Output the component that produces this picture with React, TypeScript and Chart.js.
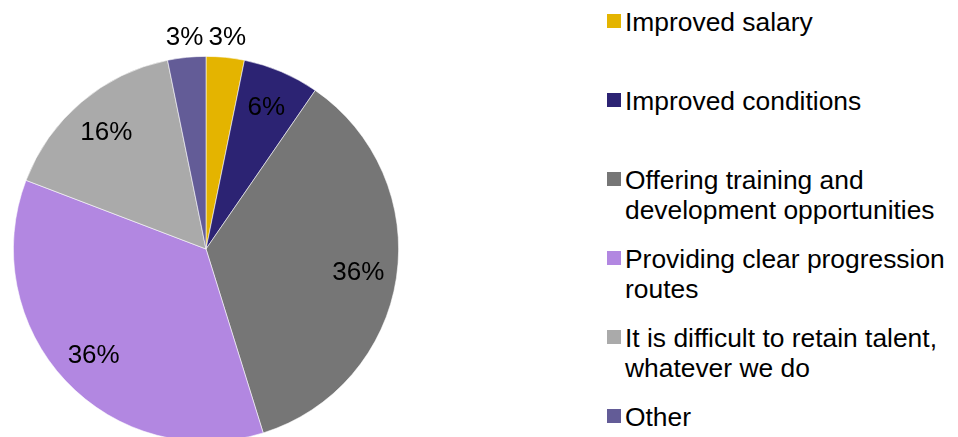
import React, { useEffect, useRef } from "react";
import { Chart, registerables } from "chart.js";

Chart.register(...registerables);

const categories: string[][] = [
  ["Improved salary"],
  ["Improved conditions"],
  ["Offering training and", "development opportunities"],
  ["Providing clear progression", "routes"],
  ["It is difficult to retain talent,", "whatever we do"],
  ["Other"],
];
const values: number[] = [3.2, 6.4, 35.6, 35.6, 16.0, 3.2];
const colors: string[] = ["#E4B400", "#2C2373", "#767676", "#B287E1", "#AAAAAA", "#635C97"];

const FONT = '"Liberation Sans", Arial, sans-serif';

const labelPlugin = {
  id: "sliceLabels",
  afterDatasetsDraw(chart: any) {
    const ctx = chart.ctx;
    const meta = chart.getDatasetMeta(0);
    const total = values.reduce((a, b) => a + b, 0);
    ctx.save();
    ctx.font = `26px ${FONT}`;
    ctx.fillStyle = "#000000";
    ctx.textAlign = "center";
    ctx.textBaseline = "middle";
    meta.data.forEach((arc: any, i: number) => {
      const { x, y, startAngle, endAngle, outerRadius } = arc.getProps(
        ["x", "y", "startAngle", "endAngle", "outerRadius"],
        true
      );
      const pct = (values[i] / total) * 100;
      const mid = (startAngle + endAngle) / 2;
      const f = pct < 5 ? 1.105 : 0.8;
      const r = outerRadius * f;
      ctx.fillText(`${Math.round(pct)}%`, x + Math.cos(mid) * r, y + Math.sin(mid) * r + 1);
    });
    ctx.restore();
  },
};

export default function App() {
  const canvasRef = useRef<HTMLCanvasElement | null>(null);

  useEffect(() => {
    if (!canvasRef.current) return;
    const chart = new Chart(canvasRef.current, {
      type: "pie",
      data: {
        labels: categories.map((c) => c.join(" ")),
        datasets: [
          {
            data: values,
            backgroundColor: colors,
            borderColor: "rgba(255,255,255,0.7)",
            borderWidth: 0.8,
          },
        ],
      },
      options: {
        animation: false,
        responsive: false,
        maintainAspectRatio: false,
        layout: { padding: { left: 13, right: 13, top: 56, bottom: 56 } },
        plugins: {
          legend: { display: false },
          tooltip: { enabled: false },
        },
      },
      plugins: [labelPlugin],
    });
    return () => chart.destroy();
  }, []);

  return (
    <div
      style={{
        position: "fixed",
        left: 0,
        top: 0,
        width: 958,
        height: 437,
        overflow: "hidden",
        background: "#ffffff",
      }}
    >
      <canvas
        ref={canvasRef}
        width={412}
        height={498}
        style={{ position: "absolute", left: 0, top: 0, width: 412, height: 498 }}
      />
      <div
        style={{
          position: "absolute",
          left: 607,
          top: 7,
          display: "flex",
          flexDirection: "column",
          fontFamily: FONT,
          fontSize: "26.4px",
          lineHeight: "30px",
          color: "#000000",
        }}
      >
        {categories.map((lines, i) => (
          <div key={i} style={{ display: "flex", height: 79, alignItems: "flex-start" }}>
            <div
              style={{
                width: 14,
                height: 14,
                marginTop: 7,
                marginRight: 4,
                background: colors[i],
                flexShrink: 0,
              }}
            />
            <div style={{ whiteSpace: "nowrap" }}>
              {lines.map((l, j) => (
                <div key={j}>{l}</div>
              ))}
            </div>
          </div>
        ))}
      </div>
    </div>
  );
}
